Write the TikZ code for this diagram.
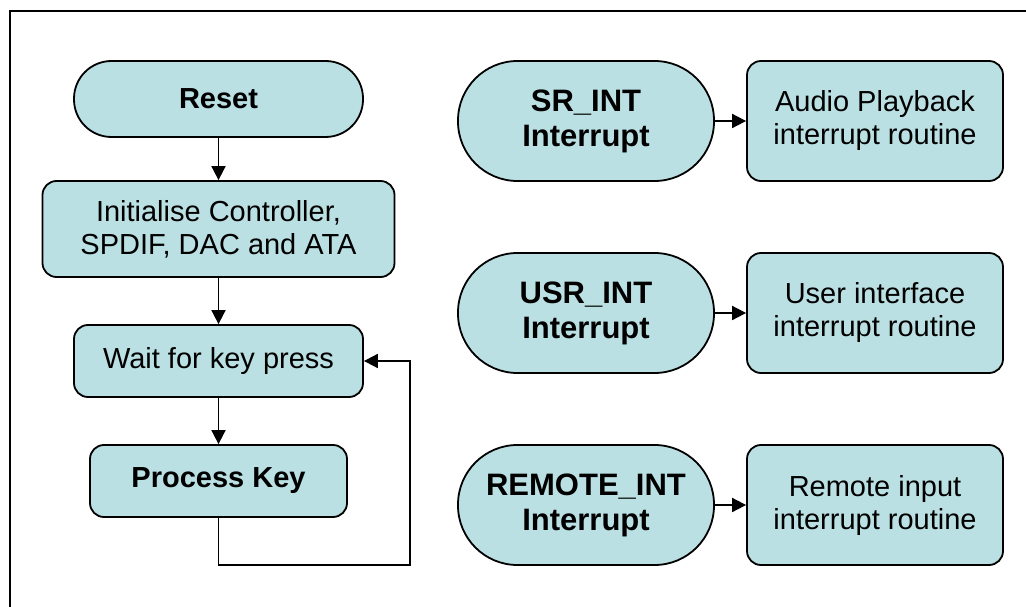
\documentclass[tikz,border=0pt]{standalone}
\usepackage{fontspec}
\setmainfont{Liberation Sans}
\usepackage{xcolor}
\usetikzlibrary{arrows.meta}
\definecolor{boxfill}{RGB}{187,224,227}

\tikzset{
  base/.style={draw, line width=1.8pt, fill=boxfill, inner sep=0pt, align=center,
    font=\fontsize{29}{33}\selectfont},
  termbox/.style={base, rounded corners=37.5pt, font=\fontsize{29}{33}\selectfont\bfseries},
  intbox/.style={base, rounded corners=59.5pt, minimum width=256pt, minimum height=120pt,
    font=\fontsize{31}{35}\selectfont\bfseries},
  procbox/.style={base, rounded corners=14pt},
  flow/.style={line width=1.8pt, -{Triangle[length=14pt,width=14pt]}}
}

\begin{document}
\begin{tikzpicture}[x=1pt, y=-1pt]
  \useasboundingbox (0,0) rectangle (1026,607);
  % frame
  \draw[line width=2pt] (1026,11) -- (10,11) -- (10,607);

  % main loop
  \node[termbox, minimum width=289pt, minimum height=76pt] (reset) at (218.5,99) {Reset};
  \node[procbox, minimum width=352pt, minimum height=96pt] (init) at (218.5,229)
    {Initialise Controller,\\SPDIF, DAC and ATA};
  \node[procbox, minimum width=289pt, minimum height=72pt] (wait) at (218.5,361) {Wait for key press};
  \node[procbox, minimum width=257pt, minimum height=72pt, font=\fontsize{29}{33}\selectfont\bfseries]
    (proc) at (218.5,481) {Process Key};
  \coordinate (back) at (410,565);

  \draw[flow] (reset) -- (init);
  \draw[flow] (init) -- (wait);
  \draw[flow] (wait) -- (proc);
  \draw[flow] (proc.south) |- (back) |- (wait.east);

  % interrupts
  \node[intbox] (srint) at (586,121) {SR\_INT\\Interrupt};
  \node[procbox, minimum width=256pt, minimum height=120pt] (audio) at (875,121)
    {Audio Playback\\interrupt routine};
  \node[intbox] (usrint) at (586,313) {USR\_INT\\Interrupt};
  \node[procbox, minimum width=256pt, minimum height=120pt] (user) at (875,313)
    {User interface\\interrupt routine};
  \node[intbox] (remint) at (586,505) {REMOTE\_INT\\Interrupt};
  \node[procbox, minimum width=256pt, minimum height=120pt] (remote) at (875,505)
    {Remote input\\interrupt routine};

  \draw[flow] (srint) -- (audio);
  \draw[flow] (usrint) -- (user);
  \draw[flow] (remint) -- (remote);
\end{tikzpicture}
\end{document}
